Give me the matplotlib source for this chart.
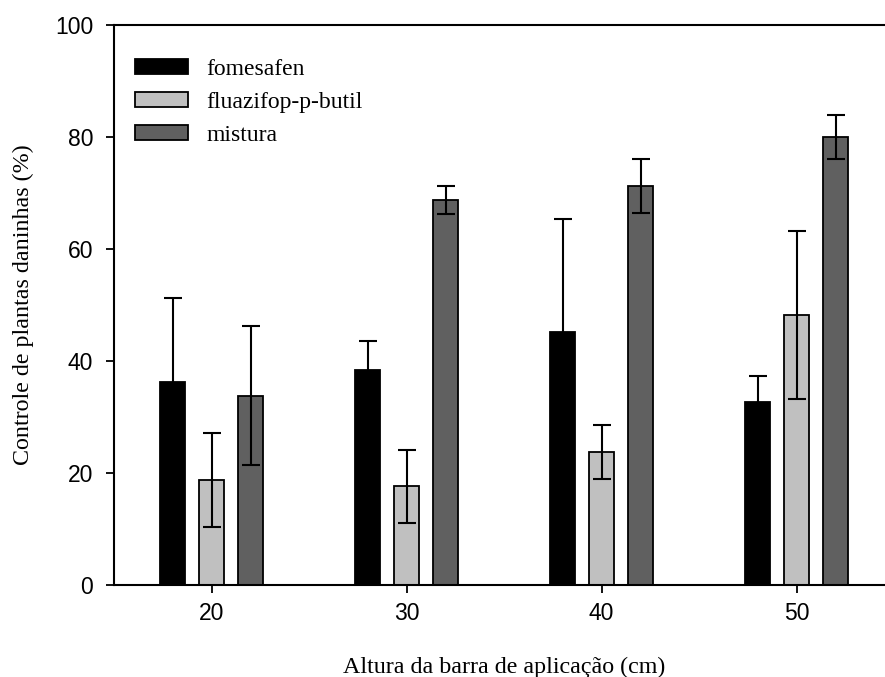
import matplotlib.pyplot as plt
import numpy as np

alturas = [20, 30, 40, 50]
series = ['fomesafen', 'fluazifop-p-butil', 'mistura']
fomesafen = [36.3, 38.4, 45.1, 32.6]
fomesafen_err = [15.0, 5.2, 20.2, 4.8]
fluazifop = [18.75, 17.6, 23.75, 48.3]
fluazifop_err = [8.4, 6.5, 4.8, 15.0]
mistura = [33.8, 68.75, 71.25, 80.0]
mistura_err = [12.4, 2.5, 4.8, 4.0]

valores = [fomesafen, fluazifop, mistura]
erros = [fomesafen_err, fluazifop_err, mistura_err]
cores = ['#000000', '#c0c0c0', '#606060']
offsets = [-2, 0, 2]

fig = plt.figure(figsize=(8.85, 6.77), dpi=100)
W, H = 885, 677
ax = fig.add_axes([114 / W, (H - 585) / H, (894 - 114) / W, (585 - 25) / H])

x = np.array(alturas, dtype=float)
for vals, errs, cor, off, nome in zip(valores, erros, cores, offsets, series):
    ax.bar(x + off, vals, width=1.25, color=cor, edgecolor='black', linewidth=1.3,
           yerr=errs, label=nome, zorder=2,
           error_kw=dict(ecolor='black', elinewidth=1.5, capsize=6.5, capthick=1.5, zorder=3))

ax.set_xlim(15, 55)
ax.set_ylim(0, 100)
ax.set_xticks(alturas)
ax.set_yticks(range(0, 101, 20))
ax.tick_params(axis='both', direction='out', length=6, width=1.3, labelsize=16.5)
ax.tick_params(axis='x', pad=6)
ax.tick_params(axis='y', pad=9)
for lab in ax.get_xticklabels() + ax.get_yticklabels():
    lab.set_fontfamily('Liberation Sans')
for s in ax.spines.values():
    s.set_linewidth(1.5)

ax.set_xlabel('Altura da barra de aplicação (cm)', fontfamily='Liberation Serif',
              fontsize=17.3, labelpad=23)
ax.set_ylabel('Controle de plantas daninhas (%)', fontfamily='Liberation Serif',
              fontsize=17.3, labelpad=15)

leg = ax.legend(loc='upper left', bbox_to_anchor=(0.0, 0.978), frameon=False,
                prop={'family': 'Liberation Serif', 'size': 17},
                handlelength=2.25, handleheight=0.65, handletextpad=0.75, labelspacing=0.5)
for h in leg.legend_handles:
    h.set_edgecolor('black')
    h.set_linewidth(1.3)

fig.savefig('out.png', dpi=100)
